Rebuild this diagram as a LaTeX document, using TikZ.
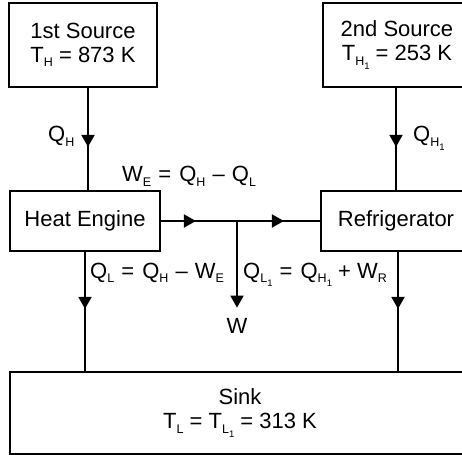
\documentclass[tikz,border=0pt]{standalone}
\usepackage{fontspec}
\setmainfont{Liberation Sans}
\usetikzlibrary{arrows.meta,decorations.markings}
\newcommand\sbA[1]{\raisebox{-4.5pt}{\fontsize{12.5}{12.5}\selectfont #1}}
\newcommand\sbB[2]{\raisebox{-4.5pt}{\fontsize{12.5}{12.5}\selectfont #1\raisebox{-4pt}{\fontsize{9.5}{9.5}\selectfont #2}}}
\newcommand\dsh{\hspace{1pt}–\hspace{1pt}}
\newcommand\eqs{\hspace{1pt}=\hspace{2pt}}
\tikzset{
 box/.style={draw, line width=1.8pt, rectangle, align=center, inner sep=0pt, font=\fontsize{22}{24}\selectfont},
 lbl/.style={inner sep=0pt, font=\fontsize{22}{24}\selectfont},
 flow/.style={line width=1.8pt},
 tipA/.tip={Triangle[width=13pt,length=12pt]},
 midarrow/.style={postaction={decorate}, decoration={markings, mark=at position #1 with {\arrow{tipA}}}},
}
\begin{document}
\begin{tikzpicture}[x=1pt,y=-1pt]
\useasboundingbox (0,0) rectangle (462,454);
\clip (0,0) rectangle (462,454);
% boxes
\node[box, minimum width=148pt, minimum height=84pt] (src1) at (83,45) {1st Source\\T\sbA{H} = 873 K};
\node[box, minimum width=148pt, minimum height=84pt] (src2) at (397,45) {2nd Source\\T\sbB{H}{1} = 253 K};
\node[box, minimum width=150pt, minimum height=60pt] (he) at (85,221) {Heat Engine};
\node[box, minimum width=150pt, minimum height=60pt] (ref) at (396,221) {Refrigerator};
\node[box, minimum width=460pt, minimum height=82pt] (sink) at (240,413) {Sink\\T\sbA{L} = T\sbB{L}{1} = 313 K};
% labels
\node[lbl, anchor=base west] (qh) at (48,142) {Q\sbA{H}};
\node[lbl, anchor=base west] (qh1) at (413,142) {Q\sbB{H}{1}};
\node[lbl, anchor=base west] (we) at (122,182) {W\sbA{E} \eqs{} Q\sbA{H} \dsh{} Q\sbA{L}};
\node[lbl, anchor=base west] (ql) at (90,278) {Q\sbA{L} \eqs{} Q\sbA{H} \dsh{} W\sbA{E}};
\node[lbl, anchor=base west] (ql1) at (243,278) {Q\sbB{L}{1} \eqs{} Q\sbB{H}{1} + W\sbA{R}};
\node[lbl, anchor=base] (w) at (237,333) {W};
\coordinate (j) at (237,220);
% connectors
\draw[flow, midarrow=59pt] ([xshift=5pt]src1.south) -- ([xshift=3pt]he.north);
\draw[flow, midarrow=59pt] ([xshift=-1pt]src2.south) -- ([xshift=0pt]ref.north);
\draw[flow, postaction={decorate}, decoration={markings,
  mark=at position 35pt with {\arrow{tipA}},
  mark=at position 123pt with {\arrow{tipA}}}] (he.east) -- (ref.west);
\draw[flow, -{tipA}, shorten >=10pt] (j) -- (w.north);
\draw[flow, midarrow=57pt] (he.south) -- (he.south |- sink.north);
\draw[flow, midarrow=57pt] ([xshift=2pt]ref.south) -- ([xshift=2pt]ref.south |- sink.north);
\end{tikzpicture}
\end{document}
